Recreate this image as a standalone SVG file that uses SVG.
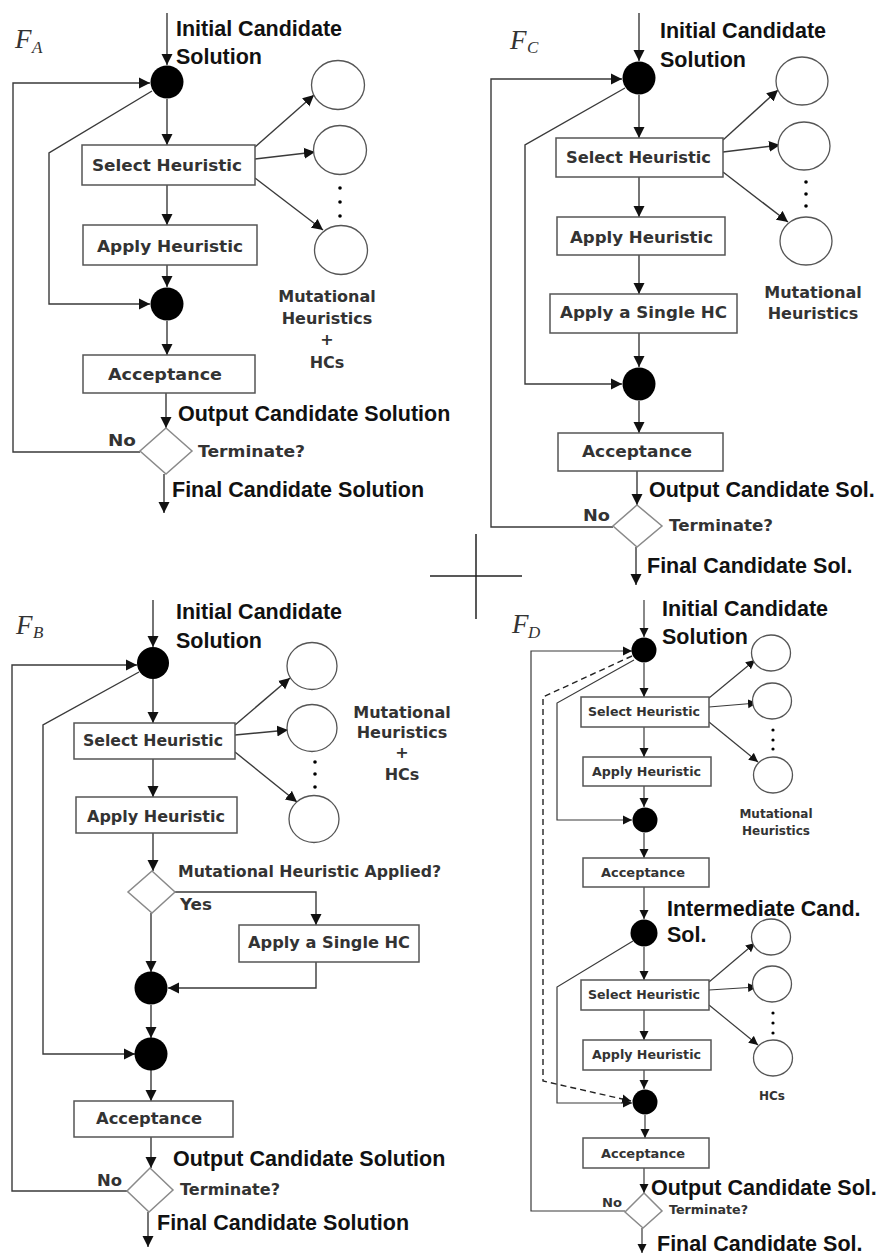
<svg xmlns="http://www.w3.org/2000/svg" width="879" height="1255" viewBox="0 0 879 1255">
<style>
.hdr{font-family:"Liberation Sans",Arial,sans-serif;font-weight:bold;font-size:21.5px;fill:#111}
.lbl{font-family:"DejaVu Sans",Verdana,sans-serif;font-weight:bold;font-size:16px;fill:#333}
.sm{font-family:"DejaVu Sans",Verdana,sans-serif;font-weight:bold;font-size:12px;fill:#333}
.fl{font-family:"Liberation Serif","Times New Roman",serif;font-style:italic;font-size:27px;fill:#333}
.fs{font-family:"Liberation Serif","Times New Roman",serif;font-style:italic;font-size:17px;fill:#333}
.box{fill:#fff;stroke:#555;stroke-width:1.5}
.dia{fill:#fff;stroke:#8a8a8a;stroke-width:1.5}
.mut{fill:#fff;stroke:#555;stroke-width:1.3}
.dot{fill:#000}
.ln{fill:none;stroke:#3a3a3a;stroke-width:1.4;marker-end:url(#ah)}
.pl{fill:none;stroke:#3a3a3a;stroke-width:1.4}
.lns{fill:none;stroke:#3a3a3a;stroke-width:1.2;marker-end:url(#as)}
.pls{fill:none;stroke:#3a3a3a;stroke-width:1.2}
.dash{fill:none;stroke:#222;stroke-width:1.4;stroke-dasharray:6 4;marker-end:url(#as)}
</style>
<defs>
<marker id="ah" markerUnits="userSpaceOnUse" markerWidth="12" markerHeight="12" viewBox="0 0 12 12" refX="11" refY="6" orient="auto"><path d="M0,0.5 L11,6 L0,11.5 z" fill="#111"/></marker>
<marker id="as" markerUnits="userSpaceOnUse" markerWidth="10" markerHeight="10" viewBox="0 0 10 10" refX="9" refY="5" orient="auto"><path d="M0,0.5 L9,5 L0,9.5 z" fill="#111"/></marker>
</defs>
<rect width="879" height="1255" fill="#fff"/>

<!-- divider cross -->
<g id="cross" stroke="#222" stroke-width="1.5">
<line x1="430" y1="576" x2="522" y2="576"/>
<line x1="476" y1="534" x2="476" y2="619"/>
</g>

<!-- ================= F_A ================= -->
<g id="FA-connectors">
<line class="ln" x1="167" y1="13" x2="167" y2="65"/>
<path class="ln" d="M140,452 H13 V83 H150"/>
<path class="ln" d="M152,91 L49,153 V304 H150"/>
<line class="ln" x1="167" y1="99" x2="167" y2="145"/>
<line class="ln" x1="167" y1="185" x2="167" y2="225"/>
<line class="ln" x1="167" y1="265" x2="167" y2="287"/>
<line class="ln" x1="167" y1="321" x2="167" y2="355"/>
<line class="ln" x1="166" y1="393" x2="166" y2="428"/>
<line class="ln" x1="164" y1="474" x2="164" y2="513"/>
<line class="ln" x1="255" y1="147" x2="314" y2="95"/>
<line class="ln" x1="255" y1="159" x2="315" y2="152"/>
<line class="ln" x1="255" y1="178" x2="323" y2="230"/>
</g>
<g id="FA-label"><text class="fl" x="15" y="48">F</text><text class="fs" x="32" y="53">A</text></g>
<g id="FA-init"><text class="hdr" x="176" y="36">Initial Candidate</text><text class="hdr" x="176" y="64">Solution</text></g>
<g id="FA-join1"><circle cx="167" cy="82" r="16.5" fill="#000"/></g>
<g id="FA-select"><rect class="box" x="82" y="145" width="173" height="40"/><text class="lbl" x="92" y="171" textLength="150" lengthAdjust="spacingAndGlyphs">Select Heuristic</text></g>
<g id="FA-apply"><rect class="box" x="83" y="225" width="174" height="40"/><text class="lbl" x="97" y="252" textLength="146" lengthAdjust="spacingAndGlyphs">Apply Heuristic</text></g>
<g id="FA-join2"><circle cx="167" cy="304" r="16.5" fill="#000"/></g>
<g id="FA-accept"><rect class="box" x="83" y="355" width="172" height="38"/><text class="lbl" x="108" y="380" textLength="114" lengthAdjust="spacingAndGlyphs">Acceptance</text></g>
<g id="FA-output"><text class="hdr" x="178" y="421">Output Candidate Solution</text></g>
<g id="FA-term"><polygon class="dia" points="166,428 192,451 166,474 140,451"/><text class="lbl" x="108" y="446" textLength="28" lengthAdjust="spacingAndGlyphs">No</text><text class="lbl" x="198" y="457" textLength="107" lengthAdjust="spacingAndGlyphs">Terminate?</text></g>
<g id="FA-final"><text class="hdr" x="172" y="497">Final Candidate Solution</text></g>
<g id="FA-heuristics">
<ellipse class="mut" cx="338" cy="85" rx="26.5" ry="24.5"/>
<ellipse class="mut" cx="340" cy="150" rx="26.5" ry="24.5"/>
<ellipse class="mut" cx="341" cy="250" rx="26.5" ry="24.5"/>
<circle class="dot" cx="340" cy="188" r="1.8"/><circle class="dot" cx="340" cy="202" r="1.8"/><circle class="dot" cx="340" cy="216" r="1.8"/>
<text class="lbl" x="327" y="302" text-anchor="middle">Mutational</text>
<text class="lbl" x="327" y="324" text-anchor="middle">Heuristics</text>
<text class="lbl" x="327" y="345" text-anchor="middle" font-size="14">+</text>
<text class="lbl" x="327" y="368" text-anchor="middle">HCs</text>
</g>

<!-- ================= F_C ================= -->
<g id="FC-connectors">
<line class="ln" x1="639" y1="13" x2="639" y2="61"/>
<path class="ln" d="M613,527 H491 V79 H622"/>
<path class="ln" d="M625,88 L525,145 V384 H622"/>
<line class="ln" x1="639" y1="95" x2="639" y2="138"/>
<line class="ln" x1="639" y1="177" x2="639" y2="217"/>
<line class="ln" x1="639" y1="255" x2="639" y2="294"/>
<line class="ln" x1="639" y1="333" x2="639" y2="367"/>
<line class="ln" x1="639" y1="401" x2="639" y2="433"/>
<line class="ln" x1="637" y1="471" x2="637" y2="505"/>
<line class="ln" x1="636" y1="547" x2="636" y2="585"/>
<line class="ln" x1="723" y1="140" x2="778" y2="90"/>
<line class="ln" x1="723" y1="152" x2="780" y2="145"/>
<line class="ln" x1="723" y1="172" x2="788" y2="222"/>
</g>
<g id="FC-label"><text class="fl" x="510" y="49">F</text><text class="fs" x="527" y="53">C</text></g>
<g id="FC-init"><text class="hdr" x="660" y="38">Initial Candidate</text><text class="hdr" x="660" y="67">Solution</text></g>
<g id="FC-join1"><circle cx="639" cy="78" r="16.5" fill="#000"/></g>
<g id="FC-select"><rect class="box" x="556" y="138" width="167" height="39"/><text class="lbl" x="566" y="163" textLength="145" lengthAdjust="spacingAndGlyphs">Select Heuristic</text></g>
<g id="FC-apply"><rect class="box" x="557" y="217" width="168" height="38"/><text class="lbl" x="570" y="243" textLength="143" lengthAdjust="spacingAndGlyphs">Apply Heuristic</text></g>
<g id="FC-hc"><rect class="box" x="550" y="294" width="187" height="39"/><text class="lbl" x="560" y="318" textLength="167" lengthAdjust="spacingAndGlyphs">Apply a Single HC</text></g>
<g id="FC-join2"><circle cx="639" cy="384" r="16.5" fill="#000"/></g>
<g id="FC-accept"><rect class="box" x="558" y="433" width="165" height="38"/><text class="lbl" x="582" y="457" textLength="110" lengthAdjust="spacingAndGlyphs">Acceptance</text></g>
<g id="FC-output"><text class="hdr" x="649" y="497">Output Candidate Sol.</text></g>
<g id="FC-term"><polygon class="dia" points="637,505 662,526 637,547 613,526"/><text class="lbl" x="583" y="521" textLength="27" lengthAdjust="spacingAndGlyphs">No</text><text class="lbl" x="669" y="531" textLength="104" lengthAdjust="spacingAndGlyphs">Terminate?</text></g>
<g id="FC-final"><text class="hdr" x="647" y="573">Final Candidate Sol.</text></g>
<g id="FC-heuristics">
<ellipse class="mut" cx="802" cy="81" rx="26" ry="24"/>
<ellipse class="mut" cx="804" cy="146" rx="26" ry="24"/>
<ellipse class="mut" cx="806" cy="241" rx="26" ry="24"/>
<circle class="dot" cx="806" cy="182" r="1.8"/><circle class="dot" cx="806" cy="194" r="1.8"/><circle class="dot" cx="806" cy="206" r="1.8"/>
<text class="lbl" x="813" y="298" text-anchor="middle">Mutational</text>
<text class="lbl" x="813" y="319" text-anchor="middle">Heuristics</text>
</g>

<!-- ================= F_B ================= -->
<g id="FB-connectors">
<line class="ln" x1="153" y1="600" x2="153" y2="647"/>
<path class="ln" d="M127,1191 H12 V665 H137"/>
<path class="ln" d="M139,672 L43,725 V1054 H135"/>
<line class="ln" x1="153" y1="679" x2="153" y2="723"/>
<line class="ln" x1="153" y1="759" x2="153" y2="797"/>
<line class="ln" x1="153" y1="833" x2="153" y2="871"/>
<path class="ln" d="M175,892 H316 V925"/>
<path class="ln" d="M316,962 V988 H168"/>
<line class="ln" x1="151" y1="913" x2="151" y2="972"/>
<line class="ln" x1="151" y1="1005" x2="151" y2="1038"/>
<line class="ln" x1="151" y1="1070" x2="151" y2="1101"/>
<line class="ln" x1="151" y1="1137" x2="151" y2="1168"/>
<line class="ln" x1="148" y1="1212" x2="148" y2="1247"/>
<line class="ln" x1="235" y1="725" x2="290" y2="678"/>
<line class="ln" x1="235" y1="735" x2="288" y2="730"/>
<line class="ln" x1="235" y1="752" x2="297" y2="802"/>
</g>
<g id="FB-label"><text class="fl" x="16" y="634">F</text><text class="fs" x="33" y="638">B</text></g>
<g id="FB-init"><text class="hdr" x="176" y="619">Initial Candidate</text><text class="hdr" x="176" y="648">Solution</text></g>
<g id="FB-join1"><circle cx="153" cy="663" r="16" fill="#000"/></g>
<g id="FB-select"><rect class="box" x="74" y="723" width="161" height="36"/><text class="lbl" x="83" y="746" textLength="140" lengthAdjust="spacingAndGlyphs">Select Heuristic</text></g>
<g id="FB-apply"><rect class="box" x="76" y="797" width="161" height="36"/><text class="lbl" x="87" y="822" textLength="138" lengthAdjust="spacingAndGlyphs">Apply Heuristic</text></g>
<g id="FB-check"><polygon class="dia" points="152,871 175,892 152,913 128,892"/><text class="lbl" x="178" y="877" textLength="263" lengthAdjust="spacingAndGlyphs">Mutational Heuristic Applied?</text><text class="lbl" x="180" y="910" textLength="32" lengthAdjust="spacingAndGlyphs">Yes</text></g>
<g id="FB-hc"><rect class="box" x="239" y="925" width="180" height="37"/><text class="lbl" x="248" y="948" textLength="162" lengthAdjust="spacingAndGlyphs">Apply a Single HC</text></g>
<g id="FB-join2"><circle cx="151" cy="988" r="16.5" fill="#000"/></g>
<g id="FB-join3"><circle cx="151" cy="1054" r="16.5" fill="#000"/></g>
<g id="FB-accept"><rect class="box" x="74" y="1101" width="159" height="36"/><text class="lbl" x="96" y="1124" textLength="106" lengthAdjust="spacingAndGlyphs">Acceptance</text></g>
<g id="FB-output"><text class="hdr" x="173" y="1166">Output Candidate Solution</text></g>
<g id="FB-term"><polygon class="dia" points="150,1168 173,1190 149,1212 127,1191"/><text class="lbl" x="97" y="1186" textLength="25" lengthAdjust="spacingAndGlyphs">No</text><text class="lbl" x="180" y="1195" textLength="100" lengthAdjust="spacingAndGlyphs">Terminate?</text></g>
<g id="FB-final"><text class="hdr" x="157" y="1230">Final Candidate Solution</text></g>
<g id="FB-heuristics">
<ellipse class="mut" cx="312" cy="666" rx="25" ry="23.5"/>
<ellipse class="mut" cx="312" cy="728" rx="25" ry="23.5"/>
<ellipse class="mut" cx="314" cy="819" rx="25" ry="23.5"/>
<circle class="dot" cx="315" cy="762" r="1.8"/><circle class="dot" cx="315" cy="774" r="1.8"/><circle class="dot" cx="315" cy="787" r="1.8"/>
<text class="lbl" x="402" y="718" text-anchor="middle" font-size="15.5">Mutational</text>
<text class="lbl" x="402" y="738" text-anchor="middle" font-size="15.5">Heuristics</text>
<text class="lbl" x="402" y="758" text-anchor="middle" font-size="13">+</text>
<text class="lbl" x="402" y="780" text-anchor="middle" font-size="15.5">HCs</text>
</g>

<!-- ================= F_D ================= -->
<g id="FD-connectors">
<line class="lns" x1="644" y1="600" x2="644" y2="637"/>
<path class="lns" d="M625,1211 H531 V651 H632"/>
<path class="dash" d="M632,656 L543,697 V1081 L631,1101"/>
<path class="lns" d="M634,660 L557,703 V820 H632"/>
<path class="lns" d="M633,941 L557,987 V1103 H632"/>
<line class="lns" x1="644" y1="663" x2="644" y2="697"/>
<line class="lns" x1="644" y1="727" x2="644" y2="757"/>
<line class="lns" x1="644" y1="786" x2="644" y2="807"/>
<line class="lns" x1="644" y1="833" x2="644" y2="858"/>
<line class="lns" x1="644" y1="887" x2="644" y2="919"/>
<line class="lns" x1="644" y1="947" x2="644" y2="980"/>
<line class="lns" x1="644" y1="1010" x2="644" y2="1040"/>
<line class="lns" x1="644" y1="1070" x2="644" y2="1089"/>
<line class="lns" x1="645" y1="1115" x2="645" y2="1138"/>
<line class="lns" x1="644" y1="1168" x2="644" y2="1193"/>
<line class="lns" x1="642" y1="1228" x2="642" y2="1253"/>
<line class="lns" x1="709" y1="698" x2="755" y2="660"/>
<line class="lns" x1="709" y1="707" x2="757" y2="703"/>
<line class="lns" x1="709" y1="722" x2="758" y2="762"/>
<line class="lns" x1="709" y1="982" x2="755" y2="943"/>
<line class="lns" x1="709" y1="990" x2="757" y2="987"/>
<line class="lns" x1="709" y1="1005" x2="758" y2="1045"/>
</g>
<g id="FD-label"><text class="fl" x="512" y="633">F</text><text class="fs" x="528" y="638">D</text></g>
<g id="FD-init"><text class="hdr" x="662" y="616">Initial Candidate</text><text class="hdr" x="662" y="644">Solution</text></g>
<g id="FD-join1"><circle cx="644" cy="650" r="12.5" fill="#000"/></g>
<g id="FD-select1"><rect class="box" x="581" y="697" width="128" height="30"/><text class="sm" x="588" y="716" textLength="112" lengthAdjust="spacingAndGlyphs">Select Heuristic</text></g>
<g id="FD-apply1"><rect class="box" x="583" y="757" width="128" height="29"/><text class="sm" x="592" y="776" textLength="109" lengthAdjust="spacingAndGlyphs">Apply Heuristic</text></g>
<g id="FD-join2"><circle cx="645" cy="820" r="12.5" fill="#000"/></g>
<g id="FD-accept1"><rect class="box" x="583" y="858" width="126" height="29"/><text class="sm" x="601" y="877" textLength="84" lengthAdjust="spacingAndGlyphs">Acceptance</text></g>
<g id="FD-inter"><text class="hdr" x="667" y="916">Intermediate Cand.</text><text class="hdr" x="667" y="942">Sol.</text></g>
<g id="FD-join3"><circle cx="644" cy="933" r="13.5" fill="#000"/></g>
<g id="FD-select2"><rect class="box" x="581" y="980" width="128" height="30"/><text class="sm" x="588" y="999" textLength="112" lengthAdjust="spacingAndGlyphs">Select Heuristic</text></g>
<g id="FD-apply2"><rect class="box" x="583" y="1040" width="128" height="30"/><text class="sm" x="592" y="1059" textLength="109" lengthAdjust="spacingAndGlyphs">Apply Heuristic</text></g>
<g id="FD-join4"><circle cx="645" cy="1102" r="12.5" fill="#000"/></g>
<g id="FD-accept2"><rect class="box" x="583" y="1138" width="126" height="30"/><text class="sm" x="601" y="1158" textLength="84" lengthAdjust="spacingAndGlyphs">Acceptance</text></g>
<g id="FD-output"><text class="hdr" x="651" y="1195" font-size="21">Output Candidate Sol.</text></g>
<g id="FD-term"><polygon class="dia" points="644,1193 662,1211 643,1228 625,1212"/><text class="sm" x="602" y="1207" textLength="20" lengthAdjust="spacingAndGlyphs">No</text><text class="sm" x="669" y="1214" textLength="79" lengthAdjust="spacingAndGlyphs">Terminate?</text></g>
<g id="FD-final"><text class="hdr" x="657" y="1251" font-size="21">Final Candidate Sol.</text></g>
<g id="FD-heuristics1">
<ellipse class="mut" cx="771" cy="653" rx="19.5" ry="18"/>
<ellipse class="mut" cx="772" cy="701" rx="19.5" ry="18"/>
<ellipse class="mut" cx="773" cy="775" rx="19.5" ry="18"/>
<circle class="dot" cx="773" cy="730" r="1.6"/><circle class="dot" cx="773" cy="740" r="1.6"/><circle class="dot" cx="773" cy="749" r="1.6"/>
<text class="sm" x="776" y="818" text-anchor="middle" font-size="11">Mutational</text>
<text class="sm" x="776" y="835" text-anchor="middle" font-size="11">Heuristics</text>
</g>
<g id="FD-heuristics2">
<ellipse class="mut" cx="771" cy="937" rx="19.5" ry="18"/>
<ellipse class="mut" cx="772" cy="984" rx="19.5" ry="18"/>
<ellipse class="mut" cx="773" cy="1058" rx="19.5" ry="18"/>
<circle class="dot" cx="773" cy="1013" r="1.6"/><circle class="dot" cx="773" cy="1023" r="1.6"/><circle class="dot" cx="773" cy="1033" r="1.6"/>
<text class="sm" x="772" y="1100" text-anchor="middle" font-size="11">HCs</text>
</g>
</svg>
